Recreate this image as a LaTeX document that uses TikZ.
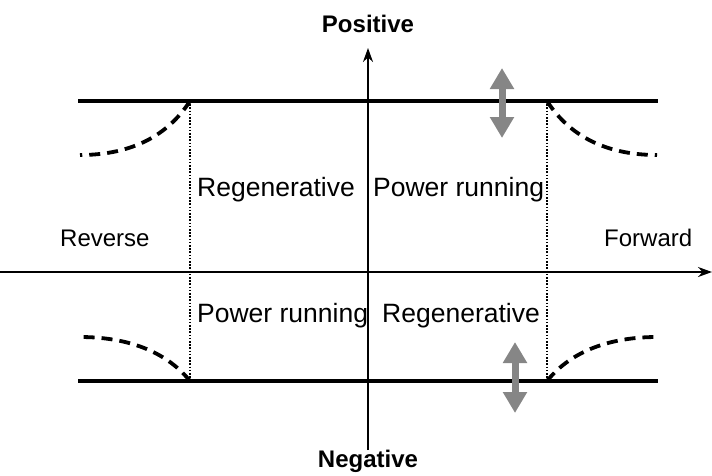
\documentclass[tikz,border=0pt]{standalone}
\usepackage{fontspec}
\setmainfont{Liberation Sans}
\usetikzlibrary{arrows.meta}
\newcommand\lblfont{\fontsize{24}{28}\selectfont}
\newcommand\quadfont{\fontsize{26.5}{30}\selectfont}

\begin{document}
\begin{tikzpicture}[x=1pt, y=-1pt, >={Stealth[length=14pt,width=10pt]},
    axis/.style={line width=1.9pt, ->},
    limitline/.style={line width=3.6pt},
    softlimit/.style={line width=3.8pt, dash pattern=on 11pt off 7pt},
    border/.style={line width=1.6pt, dash pattern=on 1.6pt off 1.6pt},
    adjarrow/.style={line width=7pt, gray!95, {Triangle[length=21pt,width=23pt]}-{Triangle[length=21pt,width=23pt]}},
    lbl/.style={inner sep=0pt, anchor=base west, font=\lblfont},
    quad/.style={inner sep=0pt, anchor=base west, font=\quadfont},
    title/.style={inner sep=0pt, anchor=base, font=\lblfont\bfseries}]
  \useasboundingbox (0,0) rectangle (712,475);
  % axes
  \coordinate (xl) at (0,272);
  \coordinate (xr) at (712,272);
  \coordinate (yb) at (368,450);
  \coordinate (yt) at (368,48);
  \draw[axis] (xl) -- (xr);
  \draw[axis] (yb) -- (yt);
  \node[title] (pos) at (368,32) {Positive};
  \node[title] (neg) at (368,467) {Negative};
  % torque limits
  \coordinate (tl) at (78,101);
  \coordinate (tr) at (658,101);
  \coordinate (bl) at (78,381);
  \coordinate (br) at (658,381);
  \coordinate (tk1) at (190,101);
  \coordinate (tk2) at (547,101);
  \coordinate (bk1) at (190,381);
  \coordinate (bk2) at (547,381);
  \draw[limitline] (tl) -- (tr);
  \draw[limitline] (bl) -- (br);
  \draw[border] (tk1) -- (bk1);
  \draw[border] (tk2) -- (bk2);
  % weakened limits beyond base speed
  \coordinate (tle) at (80,155);
  \coordinate (tre) at (657,155);
  \coordinate (ble) at (80,337);
  \coordinate (bre) at (657,337);
  \draw[softlimit] (tk1) .. controls (165,140) and (125,155) .. (tle);
  \draw[softlimit] (tk2) .. controls (572,140) and (612,155) .. (tre);
  \draw[softlimit] (bk1) .. controls (165,350) and (125,337) .. (ble);
  \draw[softlimit] (bk2) .. controls (572,350) and (612,337) .. (bre);
  % adjustable limits
  \coordinate (ua) at (502,68);
  \coordinate (ub) at (502,138);
  \coordinate (la) at (515,342);
  \coordinate (lb) at (515,413);
  \draw[adjarrow] (ua) -- (ub);
  \draw[adjarrow] (la) -- (lb);
  % quadrants
  \node[quad] (q2) at (197,196) {Regenerative};
  \node[quad] (q1) at (373,196) {Power running};
  \node[quad] (q3) at (197,322) {Power running};
  \node[quad] (q4) at (382,322) {Regenerative};
  \node[lbl] (rev) at (60,246) {Reverse};
  \node[lbl] (fwd) at (604,246) {Forward};
\end{tikzpicture}
\end{document}
